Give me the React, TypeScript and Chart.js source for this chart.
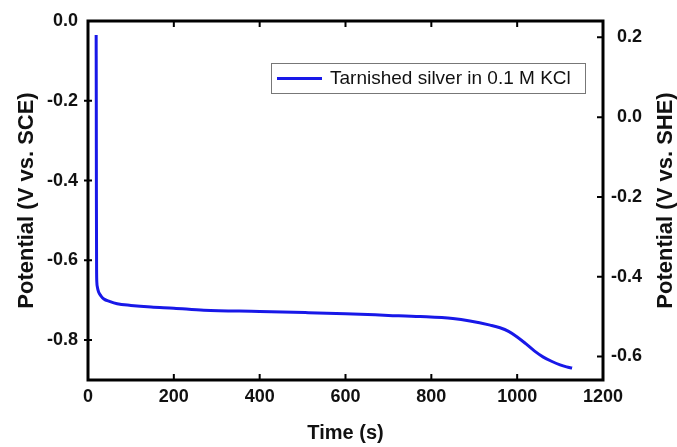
import React, { useEffect, useRef } from "react";
import { Chart, registerables } from "chart.js";

Chart.register(...registerables);

// ---- data ----
const seriesLabel = "Tarnished silver in 0.1 M KCl";
const times = [19, 19.3, 19.6, 20, 20.6, 22, 25, 30, 37, 50, 68, 100, 147, 200, 270, 400, 506, 600, 700, 774, 850, 890, 937, 960, 980, 1000, 1020, 1040, 1060, 1080, 1100, 1115, 1128];
const potentials = [-0.035, -0.2, -0.45, -0.62, -0.655, -0.668, -0.68, -0.689, -0.697, -0.703, -0.709, -0.713, -0.717, -0.72, -0.725, -0.728, -0.731, -0.734, -0.738, -0.741, -0.746, -0.752, -0.7625, -0.769, -0.778, -0.792, -0.809, -0.827, -0.842, -0.853, -0.862, -0.867, -0.87];

const xTicks = [0, 200, 400, 600, 800, 1000, 1200];
const sceTicks = [0.0, -0.2, -0.4, -0.6, -0.8];
const sheTicks = [0.2, 0.0, -0.2, -0.4, -0.6];
const sceRange = [-0.9, 0.0];
const sceToShe = 0.241;
const xTitle = "Time (s)";
const yTitle = "Potential (V vs. SCE)";
const y2Title = "Potential (V vs. SHE)";

const FONT = "'Liberation Sans', Arial, Helvetica, sans-serif";
const LINE_COLOR = "#1818e8";

const framePlugin = {
  id: "framePlugin",
  afterDraw(chart: any) {
    const { ctx, chartArea } = chart;
    const { left, right, top, bottom } = chartArea;
    const x = chart.scales.x;
    const y = chart.scales.y;
    const y2 = chart.scales.y2;
    const tl = 6;
    ctx.save();
    ctx.strokeStyle = "#000";
    ctx.lineWidth = 2;
    ctx.beginPath();
    x.ticks.forEach((t: any) => {
      const px = x.getPixelForValue(t.value);
      if (px > left + 2 && px < right - 2) {
        ctx.moveTo(px, bottom);
        ctx.lineTo(px, bottom - tl);
        ctx.moveTo(px, top);
        ctx.lineTo(px, top + tl);
      }
    });
    y.ticks.forEach((t: any) => {
      const py = y.getPixelForValue(t.value);
      if (py > top + 2 && py < bottom - 2) {
        ctx.moveTo(left - 4, py);
        ctx.lineTo(left + 4, py);
      }
    });
    y2.ticks.forEach((t: any) => {
      const py = y2.getPixelForValue(t.value);
      if (py > top + 2 && py < bottom - 2) {
        ctx.moveTo(right, py);
        ctx.lineTo(right - tl, py);
      }
    });
    ctx.stroke();
    ctx.lineWidth = 3;
    ctx.strokeRect(left, top, right - left, bottom - top);

    // vertical axis titles (both read bottom-to-top)
    const midY = (top + bottom) / 2;
    ctx.fillStyle = "#111";
    ctx.font = `bold 22px ${FONT}`;
    ctx.textAlign = "center";
    ctx.textBaseline = "alphabetic";
    ctx.save();
    ctx.translate(33, midY);
    ctx.rotate(-Math.PI / 2);
    ctx.fillText(yTitle, 0, 0);
    ctx.restore();
    ctx.save();
    ctx.translate(672, midY);
    ctx.rotate(-Math.PI / 2);
    ctx.fillText(y2Title, 0, 0);
    ctx.restore();

    // legend box inside chart area
    const ds = chart.data.datasets[0];
    const bx = 271, by = 63, bw = 314, bh = 30;
    ctx.fillStyle = "#fff";
    ctx.fillRect(bx, by, bw, bh);
    ctx.lineWidth = 1;
    ctx.strokeStyle = "#777";
    ctx.strokeRect(bx + 0.5, by + 0.5, bw, bh);
    ctx.strokeStyle = ds.borderColor;
    ctx.lineWidth = 3;
    ctx.beginPath();
    ctx.moveTo(bx + 6, by + bh / 2 + 0.5);
    ctx.lineTo(bx + 51, by + bh / 2 + 0.5);
    ctx.stroke();
    ctx.fillStyle = "#111";
    ctx.font = `19px ${FONT}`;
    ctx.textBaseline = "middle";
    ctx.textAlign = "left";
    ctx.fillText(ds.label, bx + 59, by + bh / 2 + 1);
    ctx.restore();
  },
};

export default function App() {
  const ref = useRef<HTMLCanvasElement>(null);
  useEffect(() => {
    const data = times.map((t, i) => ({ x: t, y: potentials[i] }));
    const tickFont = { family: FONT, size: 18, weight: "bold" };
    const chart = new Chart(ref.current!, {
      type: "line",
      data: {
        datasets: [
          {
            label: seriesLabel,
            data,
            borderColor: LINE_COLOR,
            backgroundColor: LINE_COLOR,
            borderWidth: 3,
            pointRadius: 0,
            cubicInterpolationMode: "monotone",
            yAxisID: "y",
          },
        ],
      },
      options: {
        responsive: false,
        animation: false,
        layout: { padding: { top: 21, left: 0, right: 35, bottom: 0 } },
        plugins: { legend: { display: false }, tooltip: { enabled: false } },
        scales: {
          x: {
            type: "linear",
            min: 0,
            max: 1200,
            afterFit: (s: any) => { s.height = 67; },
            afterBuildTicks: (s: any) => { s.ticks = xTicks.map((v) => ({ value: v })); },
            grid: { display: false, drawTicks: false },
            border: { display: false },
            ticks: {
              padding: 6,
              color: "#111",
              font: tickFont,
              callback: (v: any) => String(v),
            },
            title: {
              display: true,
              text: xTitle,
              color: "#111",
              font: { family: FONT, size: 20, weight: "bold" },
              padding: { top: 0, bottom: 2 },
            },
          },
          y: {
            type: "linear",
            position: "left",
            min: sceRange[0],
            max: sceRange[1],
            afterFit: (s: any) => { s.width = 88; },
            afterBuildTicks: (s: any) => { s.ticks = sceTicks.map((v) => ({ value: v })); },
            grid: { display: false, drawTicks: false },
            border: { display: false },
            ticks: {
              padding: 10,
              color: "#111",
              font: tickFont,
              callback: (v: any) => Number(v).toFixed(1),
            },
            title: { display: false },
          },
          y2: {
            type: "linear",
            position: "right",
            min: sceRange[0] + sceToShe,
            max: sceRange[1] + sceToShe,
            afterFit: (s: any) => { s.width = 39; },
            afterBuildTicks: (s: any) => { s.ticks = sheTicks.map((v) => ({ value: v })); },
            grid: { display: false, drawTicks: false },
            border: { display: false },
            ticks: {
              padding: 8,
              crossAlign: "far",
              color: "#111",
              font: tickFont,
              callback: (v: any) => Number(v).toFixed(1),
            },
            title: { display: false },
          },
        },
      },
      plugins: [framePlugin],
    } as any);
    return () => chart.destroy();
  }, []);
  return (
    <div style={{ position: "fixed", left: 0, top: 0, width: 677, height: 447, background: "#fff" }}>
      <canvas ref={ref} width={677} height={447} style={{ width: 677, height: 447 }} />
    </div>
  );
}
